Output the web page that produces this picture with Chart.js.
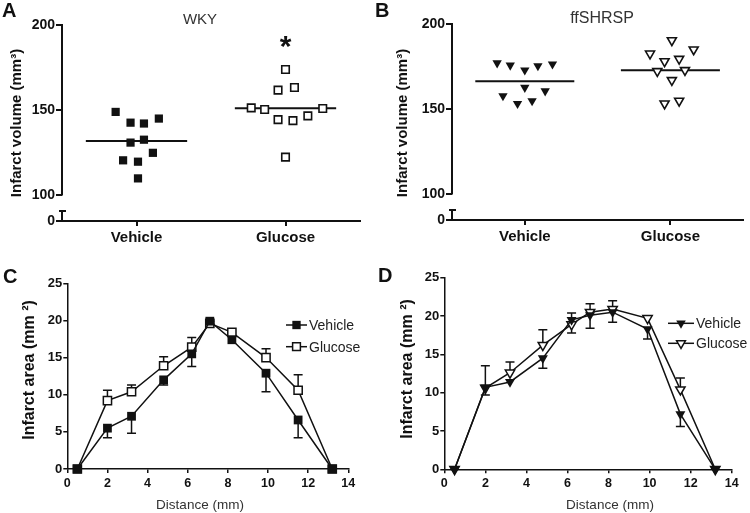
<!DOCTYPE html>
<html>
<head>
<meta charset="utf-8">
<script src="https://cdn.jsdelivr.net/npm/chart.js@4.4.1/dist/chart.umd.min.js"></script>
<style>
  body { margin: 0; background: #fff; }
  #wrap { position: relative; width: 750px; height: 513px; overflow: hidden; }
  canvas { position: absolute; }
</style>
</head>
<body>
<div id="wrap">
  <canvas id="panelA" width="375" height="255" style="left:0;top:0"></canvas>
  <canvas id="panelB" width="375" height="255" style="left:375px;top:0"></canvas>
  <canvas id="panelC" width="375" height="258" style="left:0;top:255px"></canvas>
  <canvas id="panelD" width="375" height="258" style="left:375px;top:255px"></canvas>
</div>
<script>
// --- data ---
const groups = ['Vehicle', 'Glucose'];
const volumeTicks = [0, 100, 150, 200];

const wkyVehicle = [149, 142.7, 142.2, 145.1, 131, 132.7, 125, 120.6, 119.8, 110];
const wkyVehicleJitter = [-0.14, -0.04, 0.05, 0.15, -0.04, 0.05, 0.11, -0.09, 0.01, 0.01];
const wkyGlucose = [173.9, 161.8, 163.3, 151.4, 150.4, 151, 144.5, 143.9, 146.7, 122.5];
const wkyGlucoseJitter = [0, -0.05, 0.06, -0.23, -0.14, 0.25, -0.05, 0.05, 0.15, 0];
const wkyMedian = [132, 151.2];
const wkyStars = ['', '*'];
const wkyStarAt = 190;

const shrspVehicle = [177.1, 175.8, 172.9, 175.4, 176.4, 162.7, 160.7, 157.8, 153.3, 154.9];
const shrspVehicleJitter = [-0.19, -0.10, 0, 0.09, 0.19, 0, 0.14, -0.15, -0.05, 0.05];
const shrspGlucose = [190.4, 182.6, 185, 178.1, 179.5, 172.3, 172.9, 167, 153.3, 154.9];
const shrspGlucoseJitter = [0.01, -0.14, 0.16, -0.04, 0.06, -0.09, 0.10, 0.01, -0.04, 0.06];
const shrspMedian = [166.4, 172.9];

const distance = [0.5, 2, 3.2, 4.8, 6.2, 7.1, 8.2, 9.9, 11.5, 13.2];
const distanceTicks = [0, 2, 4, 6, 8, 10, 12, 14];
const areaTicks = [0, 5, 10, 15, 20, 25];

const wkyAreaVehicle = [0, 5.5, 7.1, 12, 15.5, 19.9, 17.4, 12.9, 6.6, 0];
const wkyAreaVehicleSem = [0, 1.3, 2.3, 0.7, 1.7, 0.3, 0, 2.5, 2.4, 0];
const wkyAreaGlucose = [0, 9.2, 10.4, 13.9, 16.4, 19.6, 18.4, 15, 10.6, 0];
const wkyAreaGlucoseSem = [0, 1.4, 0.9, 1.2, 1.3, 0.3, 0, 1.2, 2.1, 0];

const shrspAreaVehicle = [0, 10.7, 11.4, 14.5, 19.5, 20.1, 20.5, 18.3, 7.2, 0];
const shrspAreaVehicleSem = [0, 1.0, 0, 1.3, 1.7, 1.7, 1.3, 1.3, 1.6, 0];
const shrspAreaGlucose = [0, 10.6, 12.6, 16.2, 18.9, 20.5, 20.9, 19.7, 10.4, 0];
const shrspAreaGlucoseSem = [0, 2.9, 1.4, 2.0, 1.5, 1.1, 1.1, 0, 1.5, 0];

// --- look ---
const ink = '#111';
const grey = '#333';
const sans = '"Liberation Sans", Arial, sans-serif';
const brokenFloor = 85; // where the "0" of the broken axis sits

Chart.defaults.font.family = sans;
Chart.defaults.color = ink;
Chart.defaults.animation = false;
Chart.defaults.plugins.legend.display = false;
Chart.defaults.plugins.tooltip.enabled = false;

const texts = {
  id: 'texts',
  afterDraw(chart, args, opts) {
    const ctx = chart.ctx;
    (opts.items || []).forEach(t => {
      ctx.save();
      ctx.font = t.font;
      ctx.fillStyle = t.color || ink;
      ctx.textAlign = t.align || 'left';
      ctx.textBaseline = t.baseline || 'alphabetic';
      ctx.translate(t.x, t.y);
      if (t.rotate) ctx.rotate(t.rotate);
      ctx.fillText(t.text, 0, 0);
      ctx.restore();
    });
  }
};

// y axis with a break between 0 and 100
const brokenAxis = {
  id: 'brokenAxis',
  afterDraw(chart) {
    const { ctx, chartArea, scales: { y } } = chart;
    const x0 = chartArea.left;
    const capY = chartArea.bottom - 10;
    ctx.save();
    ctx.strokeStyle = ink;
    ctx.lineWidth = 2;
    ctx.beginPath();
    ctx.moveTo(x0, chartArea.top - 1);
    ctx.lineTo(x0, y.getPixelForValue(volumeTicks[1]));
    ctx.moveTo(x0, capY);
    ctx.lineTo(x0, chartArea.bottom);
    ctx.moveTo(x0 - 3, capY);
    ctx.lineTo(x0 + 4, capY);
    ctx.stroke();
    ctx.restore();
  }
};

const stars = {
  id: 'stars',
  afterDraw(chart) {
    const { ctx, scales: { x, y } } = chart;
    ctx.save();
    ctx.font = 'bold 30px ' + sans;
    ctx.fillStyle = ink;
    ctx.textAlign = 'center';
    ctx.textBaseline = 'alphabetic';
    wkyStars.forEach((s, i) => {
      if (!s) return;
      const m = ctx.measureText(s);
      const off = (m.actualBoundingBoxAscent - m.actualBoundingBoxDescent) / 2;
      ctx.fillText(s, x.getPixelForValue(i + 1), y.getPixelForValue(wkyStarAt) + off);
    });
    ctx.restore();
  }
};

const errorBars = {
  id: 'errorBars',
  beforeDatasetsDraw(chart) {
    const { ctx, scales: { x, y } } = chart;
    ctx.save();
    ctx.strokeStyle = ink;
    ctx.lineWidth = 1.5;
    chart.data.datasets.forEach(ds => {
      if (!ds.sem) return;
      ds.data.forEach((p, i) => {
        const e = ds.sem[i];
        if (!e) return;
        const px = x.getPixelForValue(p.x);
        const y0 = y.getPixelForValue(p.y);
        const y1 = y.getPixelForValue(p.y + ds.semDir * e);
        ctx.beginPath();
        ctx.moveTo(px, y0);
        ctx.lineTo(px, y1);
        ctx.moveTo(px - 4.5, y1);
        ctx.lineTo(px + 4.5, y1);
        ctx.stroke();
      });
    });
    ctx.restore();
  }
};

const legendBox = {
  id: 'legendBox',
  afterDraw(chart, args, opts) {
    const ctx = chart.ctx;
    ctx.save();
    chart.data.datasets.forEach((ds, i) => {
      const y = opts.top + i * opts.gap;
      ctx.strokeStyle = ink;
      ctx.lineWidth = 1.5;
      ctx.beginPath();
      ctx.moveTo(opts.left, y);
      ctx.lineTo(opts.left + opts.width, y);
      ctx.stroke();
      ctx.fillStyle = ds.pointBackgroundColor;
      ctx.strokeStyle = ink;
      ctx.lineWidth = ds.pointBorderWidth;
      Chart.helpers.drawPoint(ctx, {
        pointStyle: ds.pointStyle, radius: ds.pointRadius - 0.3,
        rotation: ds.pointRotation || 0, borderWidth: ds.pointBorderWidth
      }, opts.left + opts.width / 2, y);
      ctx.fillStyle = '#222';
      ctx.font = '14px ' + sans;
      ctx.textAlign = 'left';
      ctx.textBaseline = 'middle';
      ctx.fillText(ds.label, opts.left + opts.width + 2, y + 1);
    });
    ctx.restore();
  }
};

function dots(values, jitter, g) {
  return values.map((v, i) => ({ x: g + jitter[i], y: v }));
}
function bar(value, g) {
  return [{ x: g - 0.34, y: value }, { x: g + 0.34, y: value }];
}

function volumeChart(id, sets, medians, shape, layout, items, extra) {
  const filled = shape === 'rect' ? 5.8 : 5.4;
  const hollow = shape === 'rect' ? 5.3 : 5.2;
  return new Chart(document.getElementById(id), {
    type: 'scatter',
    data: {
      datasets: [
        { data: dots(sets[0][0], sets[0][1], 1), pointStyle: shape, pointRotation: shape === 'triangle' ? 180 : 0,
          pointRadius: filled, pointBackgroundColor: ink, pointBorderWidth: 0, clip: false },
        { data: dots(sets[1][0], sets[1][1], 2), pointStyle: shape, pointRotation: shape === 'triangle' ? 180 : 0,
          pointRadius: hollow, pointBackgroundColor: '#fff', pointBorderColor: ink, pointBorderWidth: 1.6, clip: false },
        ...medians.map((m, i) => ({ data: bar(m, i + 1), showLine: true, borderColor: ink, borderWidth: 2, pointRadius: 0 }))
      ]
    },
    options: {
      responsive: false,
      layout: { padding: layout.padding },
      scales: {
        x: {
          type: 'linear', min: 0.5, max: 2.5,
          afterBuildTicks: s => { s.ticks = groups.map((_, i) => ({ value: i + 1 })); },
          afterFit: s => { s.height = layout.xh; },
          ticks: { callback: v => groups[v - 1], font: { size: 15, weight: 'bold' }, padding: 3, maxRotation: 0, autoSkip: false },
          grid: { drawOnChartArea: false, color: ink, lineWidth: 2, tickLength: 5 },
          border: { color: ink, width: 2 }
        },
        y: {
          min: brokenFloor, max: 200,
          afterBuildTicks: s => { s.ticks = volumeTicks.map(v => ({ value: v === 0 ? brokenFloor : v })); },
          afterFit: s => { s.width = layout.yw; },
          ticks: { callback: v => (v === brokenFloor ? '0' : String(v)), font: { size: 14, weight: 'bold' }, padding: 1, autoSkip: false },
          grid: { drawOnChartArea: false, color: ink, lineWidth: 2, tickLength: 6 },
          border: { display: false }
        }
      },
      plugins: { texts: { items } }
    },
    plugins: [texts, brokenAxis, ...extra]
  });
}

function areaChart(id, series, shape, layout, items, legend) {
  const pts = v => distance.map((d, i) => ({ x: d, y: v[i] }));
  const r = shape === 'rect' ? 6.2 : 5.8;
  return new Chart(document.getElementById(id), {
    type: 'scatter',
    data: {
      datasets: series.map((s, k) => ({
        label: groups[k],
        data: pts(s.values), sem: s.sem, semDir: k === 0 ? -1 : 1,
        showLine: true, borderColor: ink, borderWidth: 1.5,
        pointStyle: shape, pointRotation: shape === 'triangle' ? 180 : 0,
        pointRadius: k === 0 ? r : r - 0.4,
        pointBackgroundColor: k === 0 ? ink : '#fff', pointBorderColor: ink,
        pointBorderWidth: k === 0 ? 0 : 1.5, clip: false
      }))
    },
    options: {
      responsive: false,
      layout: { padding: layout.padding },
      scales: {
        x: {
          min: 0, max: 14,
          afterBuildTicks: s => { s.ticks = distanceTicks.map(v => ({ value: v })); },
          afterFit: s => { s.height = layout.xh; },
          ticks: { font: { size: 12.5, weight: 'bold' }, padding: 3, maxRotation: 0, autoSkip: false },
          grid: { drawOnChartArea: false, color: ink, lineWidth: 1.5, tickLength: 4 },
          border: { color: ink, width: 1.5 }
        },
        y: {
          min: 0, max: 25,
          afterBuildTicks: s => { s.ticks = areaTicks.map(v => ({ value: v })); },
          afterFit: s => { s.width = layout.yw; },
          ticks: { font: { size: 13, weight: 'bold' }, padding: 1, autoSkip: false },
          grid: { drawOnChartArea: false, color: ink, lineWidth: 1.5, tickLength: 4 },
          border: { color: ink, width: 1.5 }
        }
      },
      plugins: { texts: { items }, legendBox: legend }
    },
    plugins: [texts, errorBars, legendBox]
  });
}

const up = -Math.PI / 2;

volumeChart('panelA',
  [[wkyVehicle, wkyVehicleJitter], [wkyGlucose, wkyGlucoseJitter]], wkyMedian, 'rect',
  { padding: { left: 0, top: 25, right: 15, bottom: 0 }, yw: 62, xh: 34 },
  [
    { text: 'A', x: 2, y: 17, font: 'bold 20px ' + sans },
    { text: 'WKY', x: 200, y: 24, font: '15px ' + sans, align: 'center', color: grey },
    { text: 'Infarct volume (mm³)', x: 17, y: 123, font: 'bold 15px ' + sans, align: 'center', baseline: 'middle', rotate: up }
  ], [stars]);

volumeChart('panelB',
  [[shrspVehicle, shrspVehicleJitter], [shrspGlucose, shrspGlucoseJitter]], shrspMedian, 'triangle',
  { padding: { left: 0, top: 24, right: 2, bottom: 0 }, yw: 77, xh: 35 },
  [
    { text: 'B', x: 0, y: 17, font: 'bold 20px ' + sans },
    { text: 'ffSHRSP', x: 227, y: 23, font: '16px ' + sans, align: 'center', color: grey },
    { text: 'Infarct volume (mm³)', x: 28, y: 123, font: 'bold 15px ' + sans, align: 'center', baseline: 'middle', rotate: up }
  ], []);

areaChart('panelC',
  [{ values: wkyAreaVehicle, sem: wkyAreaVehicleSem }, { values: wkyAreaGlucose, sem: wkyAreaGlucoseSem }], 'rect',
  { padding: { left: 0, top: 28.3, right: 26.7, bottom: 0 }, yw: 67.3, xh: 44 },
  [
    { text: 'C', x: 3, y: 28, font: 'bold 20px ' + sans },
    { text: 'Infarct area (mm ²)', x: 30, y: 115, font: 'bold 16px ' + sans, align: 'center', baseline: 'middle', rotate: up },
    { text: 'Distance (mm)', x: 200, y: 250, font: '13.5px ' + sans, align: 'center', baseline: 'middle', color: grey }
  ],
  { left: 286, width: 21, top: 70, gap: 21.7 });

areaChart('panelD',
  [{ values: shrspAreaVehicle, sem: shrspAreaVehicleSem }, { values: shrspAreaGlucose, sem: shrspAreaGlucoseSem }], 'triangle',
  { padding: { left: 0, top: 22.7, right: 18.3, bottom: 0 }, yw: 69.3, xh: 43.7 },
  [
    { text: 'D', x: 3, y: 27, font: 'bold 20px ' + sans },
    { text: 'Infarct area (mm ²)', x: 33, y: 114, font: 'bold 16px ' + sans, align: 'center', baseline: 'middle', rotate: up },
    { text: 'Distance (mm)', x: 235, y: 250, font: '13.5px ' + sans, align: 'center', baseline: 'middle', color: grey }
  ],
  { left: 293, width: 26, top: 68.3, gap: 20 });
</script>
</body>
</html>
